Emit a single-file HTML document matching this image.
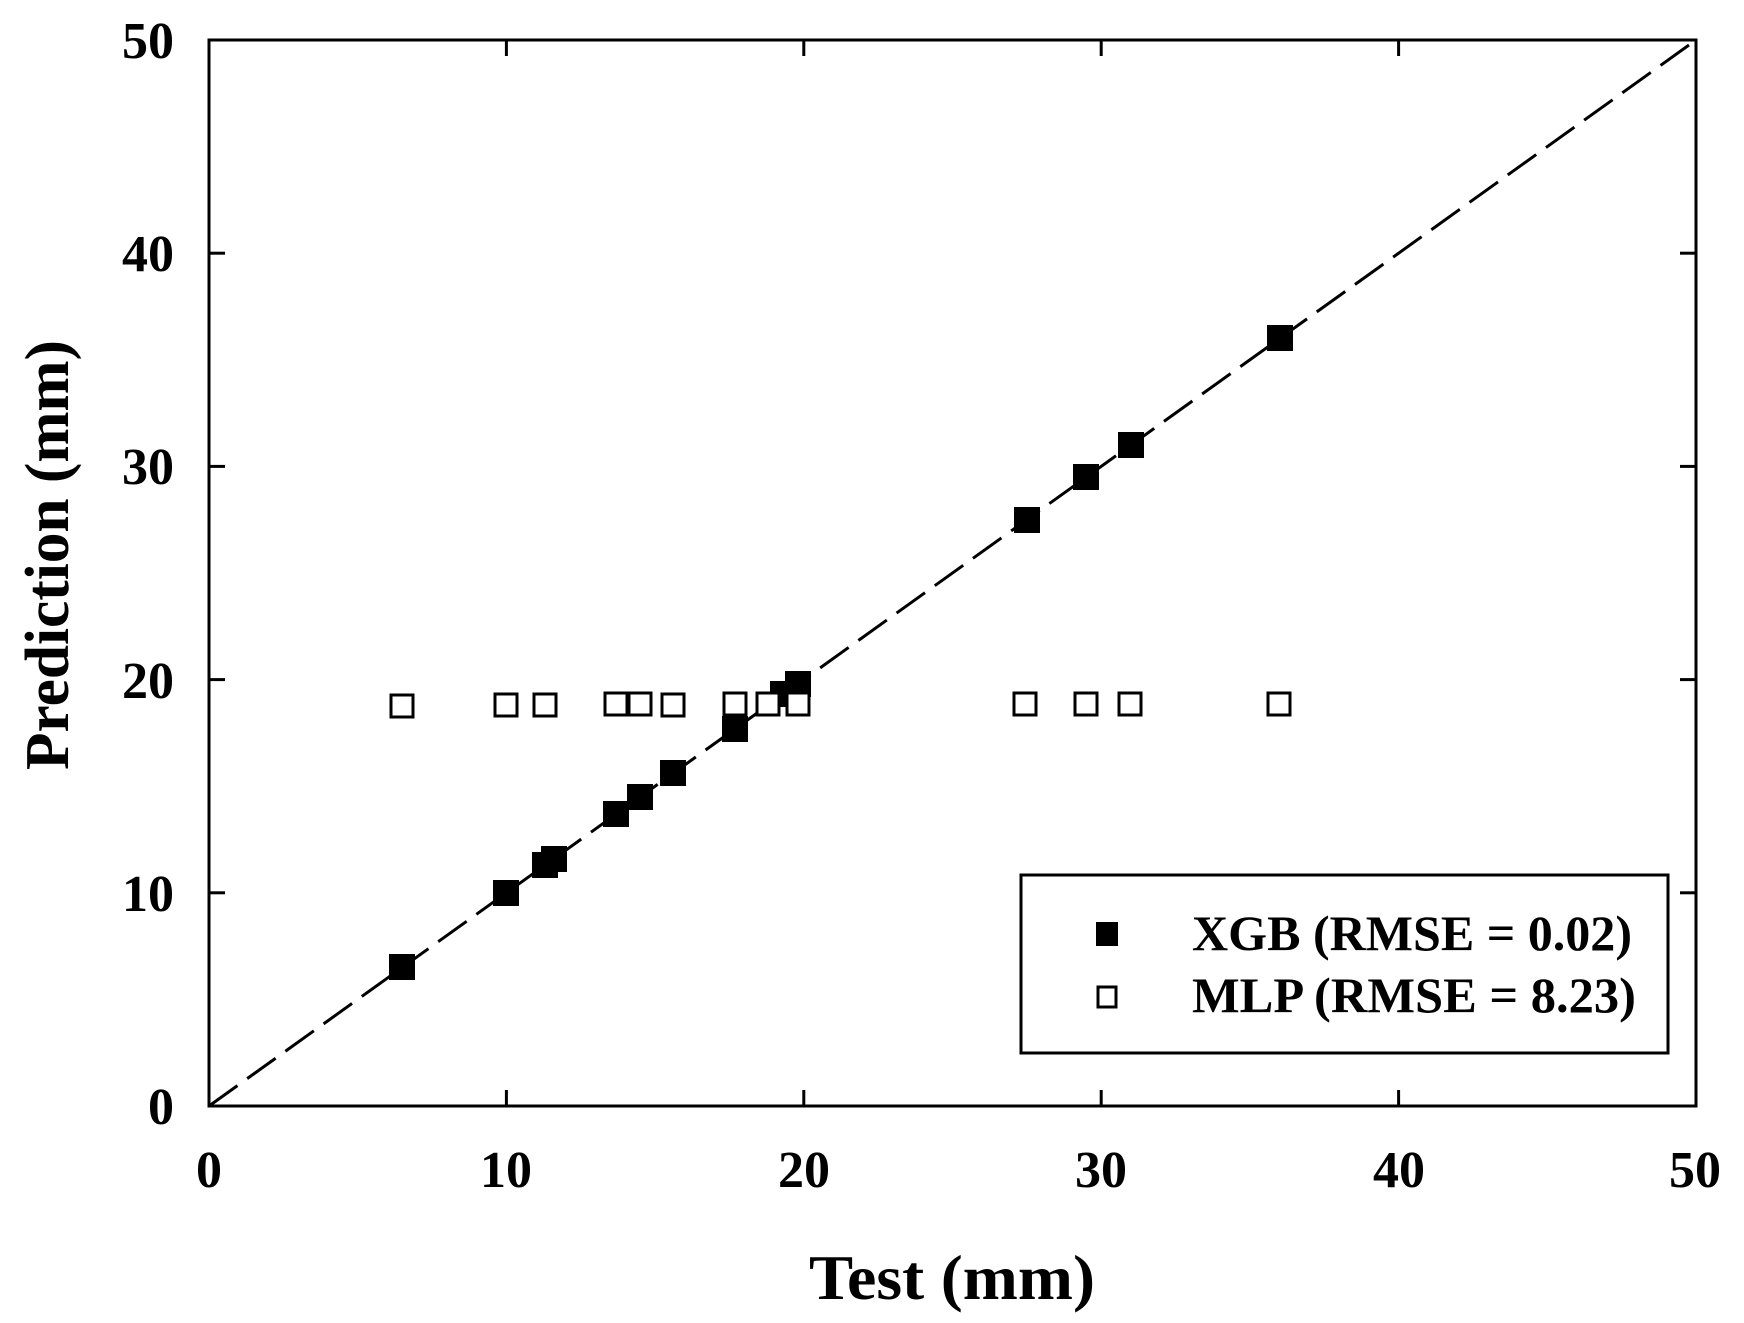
<!DOCTYPE html>
<html><head><meta charset="utf-8"><style>html,body{margin:0;padding:0;background:#fff}svg{display:block}</style></head>
<body>
<svg width="1744" height="1323" viewBox="0 0 1744 1323" xmlns="http://www.w3.org/2000/svg" font-family="Liberation Serif, serif" font-weight="bold">
<rect width="1744" height="1323" fill="#fff"/>
<!-- diagonal -->
<line x1="209" y1="1106" x2="1696" y2="40" stroke="#000" stroke-width="3" stroke-dasharray="35 12"/>
<!-- XGB -->
<g fill="#000">
<rect x="389" y="954" width="26" height="26"/>
<rect x="493" y="880" width="26" height="26"/>
<rect x="532" y="852" width="26" height="26"/>
<rect x="541" y="846" width="26" height="26"/>
<rect x="603" y="801" width="26" height="26"/>
<rect x="627" y="784" width="26" height="26"/>
<rect x="660" y="760" width="26" height="26"/>
<rect x="722" y="716" width="26" height="26"/>
<rect x="770" y="681" width="26" height="26"/>
<rect x="785" y="671" width="26" height="26"/>
<rect x="1014" y="507" width="26" height="26"/>
<rect x="1073" y="464" width="26" height="26"/>
<rect x="1118" y="432" width="26" height="26"/>
<rect x="1267" y="325" width="26" height="26"/>
</g>
<!-- MLP -->
<g fill="#fff" stroke="#000" stroke-width="3">
<rect x="391" y="695" width="22" height="22"/>
<rect x="495" y="694" width="22" height="22"/>
<rect x="534" y="694" width="22" height="22"/>
<rect x="605" y="693" width="22" height="22"/>
<rect x="629" y="693" width="22" height="22"/>
<rect x="662" y="694" width="22" height="22"/>
<rect x="724" y="693" width="22" height="22"/>
<rect x="757" y="693" width="22" height="22"/>
<rect x="787" y="693" width="22" height="22"/>
<rect x="1014" y="693" width="22" height="22"/>
<rect x="1075" y="693" width="22" height="22"/>
<rect x="1119" y="693" width="22" height="22"/>
<rect x="1268" y="693" width="22" height="22"/>
</g>
<!-- axes frame -->
<rect x="209" y="40" width="1487" height="1066" fill="none" stroke="#000" stroke-width="3"/>
<g stroke="#000" stroke-width="3">
<line x1="506.4" y1="1106" x2="506.4" y2="1090"/><line x1="803.8" y1="1106" x2="803.8" y2="1090"/><line x1="1101.2" y1="1106" x2="1101.2" y2="1090"/><line x1="1398.6" y1="1106" x2="1398.6" y2="1090"/>
<line x1="506.4" y1="40" x2="506.4" y2="56"/><line x1="803.8" y1="40" x2="803.8" y2="56"/><line x1="1101.2" y1="40" x2="1101.2" y2="56"/><line x1="1398.6" y1="40" x2="1398.6" y2="56"/>
<line x1="209" y1="892.8" x2="225" y2="892.8"/><line x1="209" y1="679.6" x2="225" y2="679.6"/><line x1="209" y1="466.4" x2="225" y2="466.4"/><line x1="209" y1="253.2" x2="225" y2="253.2"/>
<line x1="1696" y1="892.8" x2="1680" y2="892.8"/><line x1="1696" y1="679.6" x2="1680" y2="679.6"/><line x1="1696" y1="466.4" x2="1680" y2="466.4"/><line x1="1696" y1="253.2" x2="1680" y2="253.2"/>
</g>
<!-- y tick labels -->
<g font-size="52" text-anchor="end">
<text x="174" y="1124">0</text>
<text x="174" y="911">10</text>
<text x="174" y="698">20</text>
<text x="174" y="484">30</text>
<text x="174" y="271">40</text>
<text x="174" y="58">50</text>
</g>
<!-- x tick labels -->
<g font-size="52" text-anchor="middle">
<text x="209" y="1187">0</text>
<text x="506" y="1187">10</text>
<text x="804" y="1187">20</text>
<text x="1101" y="1187">30</text>
<text x="1399" y="1187">40</text>
<text x="1695" y="1187">50</text>
</g>
<text x="952" y="1299" font-size="64" text-anchor="middle" textLength="286" lengthAdjust="spacingAndGlyphs">Test (mm)</text>
<text transform="translate(68,555) rotate(-90)" font-size="62" text-anchor="middle" textLength="430" lengthAdjust="spacingAndGlyphs">Prediction (mm)</text>
<!-- legend -->
<rect x="1021" y="875" width="647" height="178" fill="#fff" stroke="#000" stroke-width="3"/>
<rect x="1096" y="922" width="22" height="24" fill="#000"/>
<rect x="1098" y="987" width="18" height="20" fill="#fff" stroke="#000" stroke-width="3"/>
<text x="1192" y="950" font-size="50" textLength="440" lengthAdjust="spacingAndGlyphs">XGB (RMSE = 0.02)</text>
<text x="1192" y="1012" font-size="50" textLength="444" lengthAdjust="spacingAndGlyphs">MLP (RMSE = 8.23)</text>
</svg>
</body></html>
